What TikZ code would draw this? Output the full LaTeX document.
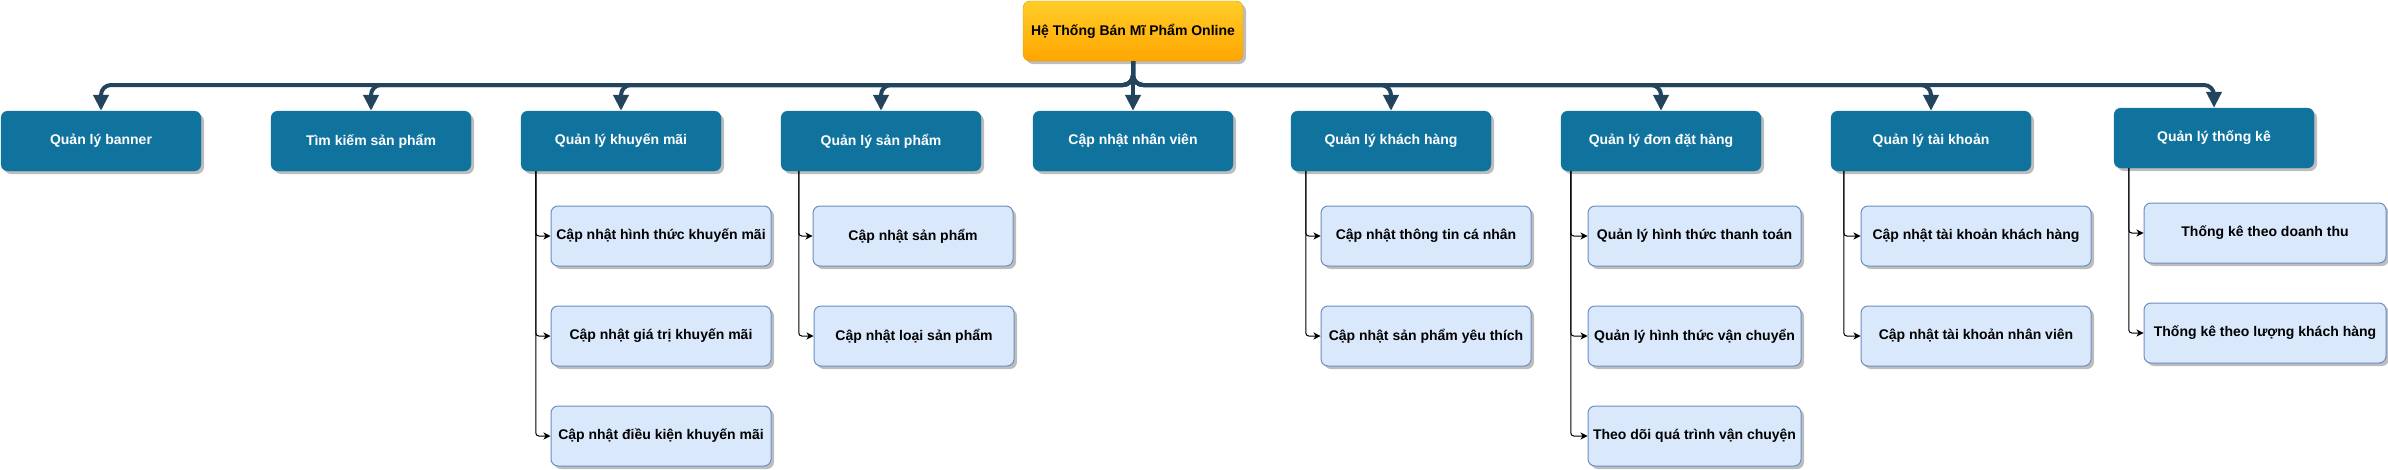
\documentclass[tikz,border=0pt]{standalone}
\usepackage{fontspec}
\setmainfont{Liberation Sans}
\usetikzlibrary{arrows.meta,shadows}
\definecolor{mainblue}{HTML}{10739E}
\definecolor{busc}{HTML}{23445D}
\definecolor{childfill}{HTML}{DAE8FC}
\definecolor{childdraw}{HTML}{6C8EBF}
\definecolor{rootT}{HTML}{FFCD28}
\definecolor{rootB}{HTML}{FFA500}
\definecolor{rootD}{HTML}{D79B00}
\definecolor{shadowc}{HTML}{BDBDBD}
\begin{document}
\begin{tikzpicture}[x=1pt,y=-1pt,
  box/.style={rounded corners=7pt, minimum height=60pt, inner sep=0pt,
    font=\fontsize{14}{16}\selectfont\bfseries,
    drop shadow={shadow xshift=3pt,shadow yshift=-3pt,fill=shadowc,opacity=1}},
  mainbox/.style={box, fill=mainblue, draw=mainblue, text=white, minimum width=200pt},
  childbox/.style={box, fill=childfill, draw=childdraw, line width=1pt, text=black},
  rootbox/.style={box, top color=rootT, bottom color=rootB, draw=rootD, minimum width=220pt},
  bus/.style={draw=busc, line width=4pt, rounded corners=10pt, -{Triangle[length=16pt,width=15pt]}},
  sub/.style={draw=black, line width=1pt, rounded corners=3pt, -{Stealth[length=7pt,width=7pt,inset=2pt]}}
]
\useasboundingbox (0,0) rectangle (2388,469);

% root
\node[rootbox] (root) at (1133,31) {Hệ Thống Bán Mĩ Phẩm Online};

% main row
\node[mainbox] (banner) at (101,141) {Quản lý banner};
\node[mainbox] (tim) at (371,141) {Tìm kiếm sản phẩm};
\node[mainbox] (km) at (621,141) {Quản lý khuyến mãi};
\node[mainbox] (sp) at (881,141) {Quản lý sản phẩm};
\node[mainbox] (nv) at (1133,141) {Cập nhật nhân viên};
\node[mainbox] (kh) at (1391,141) {Quản lý khách hàng};
\node[mainbox] (don) at (1661,141) {Quản lý đơn đặt hàng};
\node[mainbox] (tk) at (1931,141) {Quản lý tài khoản};
\node[mainbox] (tke) at (2214,138) {Quản lý thống kê};

% children
\node[childbox, minimum width=220pt] (km1) at (661,236) {Cập nhật hình thức khuyến mãi};
\node[childbox, minimum width=220pt] (km2) at (661,336) {Cập nhật giá trị khuyến mãi};
\node[childbox, minimum width=220pt] (km3) at (661,436) {Cập nhật điều kiện khuyến mãi};
\node[childbox, minimum width=200pt] (sp1) at (913,236) {Cập nhật sản phẩm};
\node[childbox, minimum width=200pt] (sp2) at (914,336) {Cập nhật loại sản phẩm};
\node[childbox, minimum width=210pt] (kh1) at (1426,236) {Cập nhật thông tin cá nhân};
\node[childbox, minimum width=210pt] (kh2) at (1426,336) {Cập nhật sản phẩm yêu thích};
\node[childbox, minimum width=213pt] (don1) at (1694.5,236) {Quản lý hình thức thanh toán};
\node[childbox, minimum width=213pt] (don2) at (1694.5,336) {Quản lý hình thức vận chuyển};
\node[childbox, minimum width=213pt] (don3) at (1694.5,436) {Theo dõi quá trình vận chuyện};
\node[childbox, minimum width=230pt] (tk1) at (1976,236) {Cập nhật tài khoản khách hàng};
\node[childbox, minimum width=230pt] (tk2) at (1976,336) {Cập nhật tài khoản nhân viên};
\node[childbox, minimum width=242pt] (tke1) at (2265,233) {Thống kê theo doanh thu};
\node[childbox, minimum width=242pt] (tke2) at (2265,333) {Thống kê theo lượng khách hàng};

% bus connectors
\coordinate (busy) at (0,85);
\foreach \t in {banner,tim,km,sp,kh,don,tk,tke}{
  \draw[bus] (root.south) -- (root.south |- busy) -- (\t.north |- busy) -- (\t.north);
}
\draw[bus] (root.south) -- (nv.north);

% sub connectors
\foreach \c in {km1,km2,km3}{\draw[sub] ([xshift=15pt]km.south west) |- (\c.west);}
\foreach \c in {sp1,sp2}{\draw[sub] ([xshift=18pt]sp.south west) |- (\c.west);}
\foreach \c in {kh1,kh2}{\draw[sub] ([xshift=15pt]kh.south west) |- (\c.west);}
\foreach \c in {don1,don2,don3}{\draw[sub] ([xshift=10pt]don.south west) |- (\c.west);}
\foreach \c in {tk1,tk2}{\draw[sub] ([xshift=13pt]tk.south west) |- (\c.west);}
\foreach \c in {tke1,tke2}{\draw[sub] ([xshift=15pt]tke.south west) |- (\c.west);}
\end{tikzpicture}
\end{document}
